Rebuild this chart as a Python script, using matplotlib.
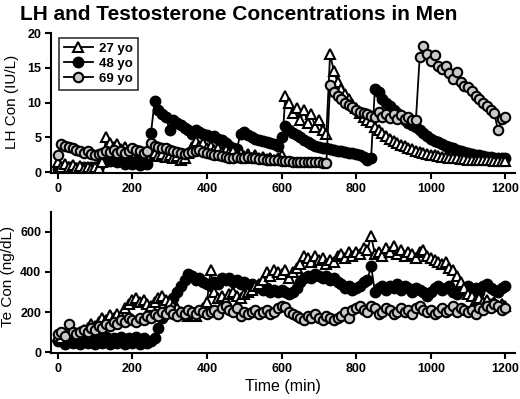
import matplotlib
matplotlib.use("Agg")
import matplotlib.pyplot as plt
import numpy as np

plt.rcParams['font.family'] = ['Liberation Sans', 'DejaVu Sans']

time_min = list(range(0, 1201, 10))

lh_27 = [1.5, 0.8, 1.2, 0.7, 1.0, 0.6, 0.9, 0.5, 0.8, 0.5, 0.7, 0.6, 1.5, 5.0, 4.2, 3.6, 4.0, 3.3, 3.6, 3.0,
         3.3, 2.8, 3.1, 2.6, 2.9, 2.4, 2.8, 2.3, 2.6, 2.2, 2.5, 2.0, 2.3, 1.8, 2.1, 2.8, 3.6, 4.5, 3.8, 4.2,
         3.5, 3.8, 3.2, 3.5, 2.9, 3.2, 2.7, 3.0, 2.5, 2.8, 2.3, 2.6, 2.1, 2.4, 2.0, 2.2, 1.9, 2.1, 1.8, 2.0,
         2.5, 11.0, 10.0, 8.5, 9.2, 7.5, 9.0, 7.0, 8.3, 6.5, 7.5, 6.0, 5.5, 17.0, 14.5, 13.0, 12.0, 11.2, 10.5, 9.8,
         9.2, 8.5, 8.0, 7.5, 7.2, 6.5, 6.0, 5.6, 5.2, 4.8, 4.5, 4.2, 3.9, 3.7, 3.5, 3.3, 3.1, 2.9, 2.8, 2.6,
         2.5, 2.4, 2.3, 2.2, 2.2, 2.1, 2.0, 2.0, 1.9, 1.9, 1.8, 1.8, 1.8, 1.7, 1.7, 1.7, 1.7, 1.6, 1.6, 1.6,
         1.6]
lh_48 = [0.5, 0.8, 0.4, 0.7, 0.3, 0.6, 0.4, 0.7, 0.5, 0.8, 0.5, 0.9, 1.8, 2.0, 1.6, 1.8, 1.4, 1.6, 1.2, 1.5,
         1.1, 1.4, 1.0, 1.3, 1.2, 5.6, 10.3, 9.0, 8.3, 8.0, 6.0, 7.5, 7.0, 6.8, 6.3, 6.0, 5.5, 6.0, 5.8, 5.5,
         5.3, 5.0, 5.2, 4.8, 4.6, 4.2, 3.8, 3.5, 3.3, 5.5, 5.8, 5.3, 5.0, 4.8, 4.6, 4.5, 4.3, 4.2, 4.0, 3.8,
         5.0, 6.6, 6.0, 5.6, 5.3, 5.0, 4.6, 4.3, 4.0, 3.8, 3.6, 3.5, 3.4, 3.3, 3.2, 3.1, 3.0, 2.9, 2.8, 2.7,
         2.6, 2.4, 2.2, 1.7, 2.1, 12.0, 11.5, 10.5, 10.0, 9.5, 9.0, 8.5, 8.0, 7.5, 7.0, 6.8, 6.5, 6.0, 5.6, 5.2,
         4.8, 4.5, 4.3, 4.0, 3.8, 3.6, 3.4, 3.2, 3.0, 2.9, 2.8, 2.6, 2.5, 2.4, 2.3, 2.2, 2.2, 2.1, 2.0, 2.0,
         2.0]
lh_69 = [2.5, 4.0, 3.8, 3.6, 3.4, 3.2, 3.0, 2.8, 3.0, 2.6, 2.4, 2.6, 2.8, 3.0, 2.9, 3.2, 2.8, 3.0, 2.7, 3.0,
         3.4, 3.2, 3.0, 2.8, 3.0, 4.2, 3.8, 3.6, 3.4, 3.5, 3.2, 3.0, 2.9, 2.8, 2.6, 2.7, 2.9, 3.0, 3.2, 2.9,
         2.8, 2.6, 2.5, 2.4, 2.3, 2.2, 2.1, 2.0, 2.2, 2.1, 2.0, 2.2, 2.1, 2.0, 1.9, 1.9, 1.8, 1.8, 1.7, 1.7,
         1.6, 1.6, 1.6, 1.5, 1.5, 1.5, 1.5, 1.4, 1.4, 1.4, 1.4, 1.3, 1.3, 12.5, 11.5, 11.0, 10.5, 10.0, 9.6, 9.3,
         9.0, 8.7, 8.5, 8.3, 8.1, 8.0, 8.6, 7.9, 8.4, 7.8, 8.3, 7.7, 8.2, 7.6, 8.0, 7.5, 7.5, 16.5, 18.2, 17.0,
         16.0, 16.8, 15.2, 14.8, 15.3, 14.3, 13.4, 14.4, 13.0, 12.4, 12.3, 11.6, 11.0, 10.5, 10.0, 9.5, 9.0, 8.5, 6.0, 7.6,
         7.9]

te_27 = [80, 70, 90, 80, 100, 90, 100, 110, 120, 140, 130, 150, 170, 160, 185, 170, 190, 180, 220, 240,
         260, 270, 250, 260, 240, 230, 250, 270, 280, 260, 250, 230, 220, 200, 190, 180, 190, 180, 200, 220,
         250, 410, 300, 270, 280, 260, 290, 300, 280, 270, 290, 300, 310, 330, 340, 360, 400, 380, 410, 400,
         390, 410, 370, 400, 420, 440, 480, 470, 450, 480, 460, 470, 440, 460, 450, 480, 490, 470, 500, 480,
         500, 490, 520, 510, 580, 490, 500, 480, 520, 500, 530, 490, 510, 480, 500, 490, 470, 500, 510, 480,
         470, 460, 450, 440, 450, 420, 410, 380, 350, 320, 290, 280, 260, 270, 250, 260, 240, 250, 230, 240,
         230]
te_48 = [55, 75, 40, 70, 45, 75, 40, 70, 45, 75, 40, 70, 45, 75, 40, 70, 45, 75, 40, 70,
         45, 75, 40, 70, 45, 55, 70, 120, 170, 200, 240, 270, 300, 330, 360, 390, 380, 360, 370, 350,
         340, 330, 350, 340, 370, 360, 370, 350, 360, 340, 350, 330, 340, 320, 330, 310, 320, 300, 310, 300,
         310, 300, 290, 300, 320, 350, 370, 380, 370, 390, 380, 370, 380, 360, 370, 350, 340, 320, 330, 310,
         320, 330, 350, 360, 430, 300, 320, 330, 310, 330, 320, 340, 310, 330, 320, 300, 320, 310, 300, 280,
         300, 320, 330, 310, 320, 330, 300, 290, 310, 320, 330, 310, 320, 300, 330, 340, 320, 310, 300, 320,
         330]
te_69 = [90, 100, 80, 140, 100, 90, 100, 110, 100, 120, 110, 130, 120, 140, 130, 150, 140, 160, 150, 170,
         160, 150, 170, 160, 180, 170, 190, 180, 200, 190, 210, 190, 180, 200, 190, 210, 200, 190, 210, 200,
         190, 200, 210, 190, 220, 230, 210, 200, 220, 180, 200, 190, 200, 210, 190, 200, 210, 190, 200, 220,
         230, 225, 200, 190, 180, 170, 160, 180, 170, 190, 170, 160, 180, 170, 160, 170, 180, 200, 170, 210,
         220, 230, 210, 200, 230, 220, 190, 200, 220, 210, 190, 200, 220, 200, 210, 190, 220, 230, 210, 200,
         210, 190, 200, 220, 200, 210, 230, 200, 220, 210, 200, 210, 190, 220, 210, 230, 220, 240, 230, 210,
         220]

series_labels = ["27 yo", "48 yo", "69 yo"]

fig = plt.figure(figsize=(5.2, 3.99), dpi=100)
ax1 = fig.add_axes([0.098, 0.566, 0.892, 0.351])
ax2 = fig.add_axes([0.098, 0.115, 0.892, 0.354])

styles = {
    "27 yo": dict(marker='^', mfc='white', mec='black', ms=7.0),
    "48 yo": dict(marker='o', mfc='black', mec='black', ms=7.0),
    "69 yo": dict(marker='o', mfc='#c8c8c8', mec='black', ms=6.8),
}

def draw(ax, data):
    handles = {}
    for lab in ["48 yo", "27 yo", "69 yo"]:
        st = styles[lab]
        h, = ax.plot(time_min, data[lab], color='black', lw=1.3, marker=st['marker'],
                     mfc=st['mfc'], mec=st['mec'], mew=1.5, ms=st['ms'], label=lab)
        handles[lab] = h
    return handles

h = draw(ax1, {"27 yo": lh_27, "48 yo": lh_48, "69 yo": lh_69})
draw(ax2, {"27 yo": te_27, "48 yo": te_48, "69 yo": te_69})

for ax in (ax1, ax2):
    ax.set_xlim(-18, 1225)
    ax.set_xticks([0, 200, 400, 600, 800, 1000, 1200])
    for s in ('top', 'right'):
        ax.spines[s].set_visible(False)
    for s in ('left', 'bottom'):
        ax.spines[s].set_linewidth(1.5)
    ax.tick_params(direction='out', length=4, width=1.5, labelsize=9, pad=3)

ax1.set_ylim(-0.15, 20)
ax1.set_yticks([0, 5, 10, 15, 20])
ax2.set_ylim(-5, 700)
ax2.set_yticks([0, 200, 400, 600])
for ax in (ax1, ax2):
    for lbl in ax.get_xticklabels() + ax.get_yticklabels():
        lbl.set_fontweight('bold')

fig.text(12 / 520, 1 - 102 / 399, "LH Con (IU/L)", fontsize=11, rotation=90,
         ha='center', va='center')
fig.text(8 / 520, 1 - 276 / 399, "Te Con (ng/dL)", fontsize=11, rotation=90,
         ha='center', va='center')
ax2.set_xlabel("Time (min)", fontsize=11.5, labelpad=3)

leg = ax1.legend([h[l] for l in series_labels], series_labels, loc='upper left',
                 bbox_to_anchor=(0.012, 0.985), frameon=True, fancybox=False,
                 edgecolor='black', prop={'weight': 'bold', 'size': 9.5},
                 handlelength=2.2, handletextpad=0.5, borderpad=0.35, labelspacing=0.22,
                 borderaxespad=0.2)
leg.get_frame().set_linewidth(1.2)

fig.text(0.038, 0.963, "LH and Testosterone Concentrations in Men", fontsize=15,
         fontweight='bold', ha='left', va='center')

fig.savefig("out.png", dpi=100)
